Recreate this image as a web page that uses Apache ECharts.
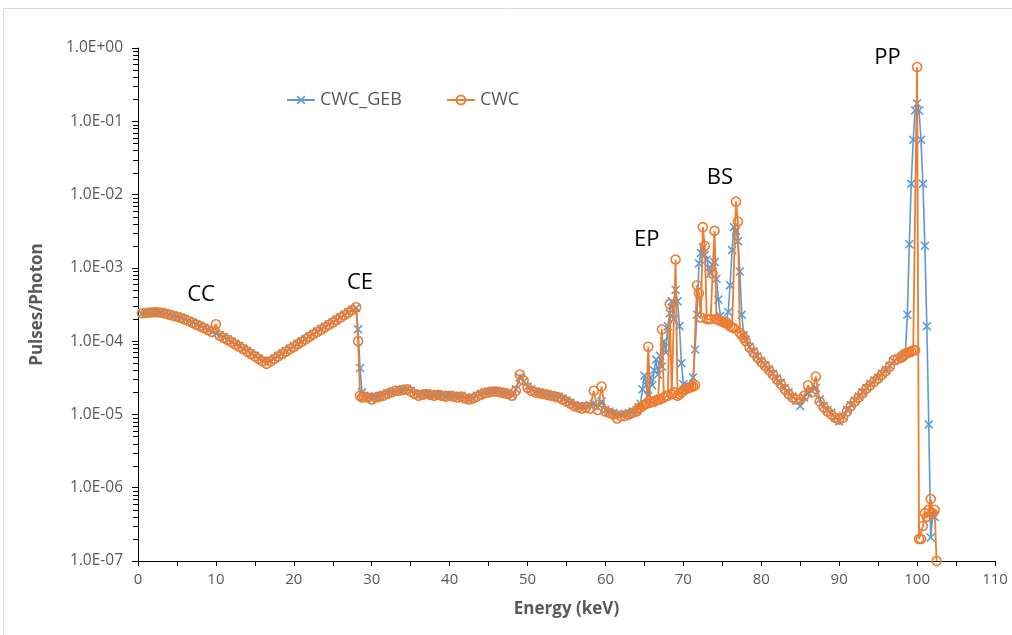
<!DOCTYPE html>
<html>
<head>
<meta charset="utf-8">
<script src="https://cdn.jsdelivr.net/npm/echarts@6/dist/echarts.min.js"></script>
<style>
  html, body { margin: 0; padding: 0; background: #fff; }
  #chart { width: 1012px; height: 635px; }
</style>
</head>
<body>
<div id="chart"></div>
<script>
// energy grid (keV)
const energy = [
  0.5,1,1.5,2,2.5,3,3.5,4,4.5,5,5.5,6,6.5,7,7.5,8,8.5,9,9.5,10,
  10.5,11,11.5,12,12.5,13,13.5,14,14.5,15,15.5,16,16.5,17,17.5,18,18.5,19,19.5,20,
  20.5,21,21.5,22,22.5,23,23.5,24,24.5,25,25.5,26,26.5,27,27.5,28,28.25,28.5,28.75,29,
  29.5,30,30.5,31,31.5,32,32.5,33,33.5,34,34.5,35,35.5,36,36.5,37,37.5,38,38.5,39,
  39.5,40,40.5,41,41.5,42,42.5,43,43.5,44,44.5,45,45.5,46,46.5,47,47.5,48,48.5,49,
  49.5,50,50.5,51,51.5,52,52.5,53,53.5,54,54.5,55,55.5,56,56.5,57,57.5,58,58.5,59,
  59.5,60,60.5,61,61.5,62,62.5,63,63.5,
  64,64.25,64.5,64.75,65,65.25,65.5,65.75,66,66.25,66.5,66.75,67,67.25,67.5,67.75,
  68,68.25,68.5,68.75,69,69.25,69.5,69.75,70,70.25,70.5,70.75,71,71.25,71.5,71.75,
  72,72.25,72.5,72.75,73,73.25,73.5,73.75,74,74.25,74.5,74.75,75,75.25,75.5,75.75,
  76,76.25,76.5,76.75,77,77.25,77.5,77.75,78,
  78.5,79,79.5,80,80.5,81,81.5,82,82.5,83,83.5,84,84.5,85,85.5,86,86.5,87,87.5,88,
  88.5,89,89.5,90,90.5,91,91.5,92,92.5,93,93.5,94,94.5,95,95.5,96,96.5,97,97.5,
  98,98.25,98.5,98.75,99,99.25,99.5,99.75,100,100.25,100.5,100.75,101,101.25,101.5,101.75,102,102.25,102.5
];

// CWC_GEB pulses/photon
const cwcGeb = [
  2.38e-4,2.44e-4,2.48e-4,2.5e-4,2.5e-4,2.46e-4,2.4e-4,2.33e-4,2.25e-4,2.18e-4,2.1e-4,2.0e-4,1.9e-4,1.81e-4,1.71e-4,1.62e-4,1.52e-4,1.44e-4,1.35e-4,1.28e-4,
  1.2e-4,1.13e-4,1.06e-4,9.9e-5,9.2e-5,8.6e-5,7.9e-5,7.4e-5,6.8e-5,6.3e-5,5.8e-5,5.4e-5,5.0e-5,5.4e-5,5.8e-5,6.3e-5,6.8e-5,7.3e-5,7.9e-5,8.5e-5,
  9.2e-5,9.9e-5,1.07e-4,1.16e-4,1.25e-4,1.35e-4,1.45e-4,1.57e-4,1.69e-4,1.82e-4,1.97e-4,2.12e-4,2.29e-4,2.47e-4,2.67e-4,2.85e-4,1.45e-4,4.3e-5,2.0e-5,1.8e-5,
  1.75e-5,1.7e-5,1.75e-5,1.8e-5,1.85e-5,1.95e-5,2.0e-5,2.05e-5,2.15e-5,2.2e-5,2.25e-5,2.1e-5,1.95e-5,1.85e-5,1.9e-5,1.95e-5,1.9e-5,1.85e-5,1.9e-5,1.85e-5,
  1.8e-5,1.85e-5,1.8e-5,1.75e-5,1.8e-5,1.7e-5,1.65e-5,1.7e-5,1.8e-5,1.9e-5,2.0e-5,2.05e-5,2.1e-5,2.1e-5,2.05e-5,2.0e-5,1.95e-5,1.85e-5,2.2e-5,3.2e-5,
  2.8e-5,2.4e-5,2.2e-5,2.05e-5,2.0e-5,1.95e-5,1.9e-5,1.85e-5,1.8e-5,1.75e-5,1.65e-5,1.55e-5,1.45e-5,1.35e-5,1.3e-5,1.28e-5,1.3e-5,1.35e-5,1.4e-5,1.25e-5,
  1.5e-5,1.15e-5,1.1e-5,1.05e-5,1.0e-5,1.0e-5,1.02e-5,1.05e-5,1.1e-5,
  1.15e-5,1.25e-5,1.4e-5,2.2e-5,3.4e-5,2.5e-5,1.8e-5,3.2e-5,2.5e-5,4.0e-5,5.6e-5,3.5e-5,6.3e-5,4.5e-5,1.0e-4,7.0e-5,
  1.6e-4,2.4e-4,3.5e-4,2.0e-4,5.0e-4,3.5e-4,1.6e-4,5.0e-5,2.6e-5,2.2e-5,2.3e-5,2.4e-5,2.4e-5,3.2e-5,7.7e-5,2.3e-4,
  1.15e-3,1.6e-3,1.9e-3,1.5e-3,1.3e-3,1.0e-3,8.4e-4,1.1e-3,1.2e-3,7.1e-4,3.7e-4,2.2e-4,1.9e-4,1.85e-4,1.8e-4,2.5e-4,
  5.8e-4,1.75e-3,3.6e-3,3.2e-3,2.3e-3,8.9e-4,2.3e-4,1.2e-4,1.05e-4,
  8.4e-5,7.2e-5,6.2e-5,5.4e-5,4.7e-5,4.1e-5,3.6e-5,3.1e-5,2.7e-5,2.3e-5,2.0e-5,1.75e-5,1.55e-5,1.3e-5,1.7e-5,2.0e-5,2.1e-5,2.3e-5,1.6e-5,1.3e-5,
  1.15e-5,1.05e-5,9.0e-6,8.0e-6,9.5e-6,1.15e-5,1.35e-5,1.55e-5,1.75e-5,2.0e-5,2.3e-5,2.6e-5,2.9e-5,3.2e-5,3.6e-5,4.0e-5,4.6e-5,5.3e-5,5.8e-5,
  6.2e-5,6.5e-5,6.8e-5,2.3e-4,2.1e-3,1.4e-2,5.6e-2,1.4e-1,1.75e-1,1.4e-1,5.6e-2,1.4e-2,2.0e-3,1.6e-4,7.3e-6,2.1e-7,4.2e-7,4.0e-7,null
];

// CWC pulses/photon
const cwc = [
  2.4e-4,2.42e-4,2.46e-4,2.48e-4,2.47e-4,2.44e-4,2.38e-4,2.3e-4,2.22e-4,2.15e-4,2.07e-4,1.98e-4,1.88e-4,1.78e-4,1.68e-4,1.59e-4,1.5e-4,1.41e-4,1.33e-4,1.7e-4,
  1.18e-4,1.11e-4,1.04e-4,9.7e-5,9.0e-5,8.4e-5,7.8e-5,7.2e-5,6.7e-5,6.2e-5,5.7e-5,5.3e-5,4.9e-5,5.3e-5,5.7e-5,6.2e-5,6.7e-5,7.2e-5,7.8e-5,8.4e-5,
  9.1e-5,9.8e-5,1.06e-4,1.15e-4,1.24e-4,1.33e-4,1.44e-4,1.55e-4,1.67e-4,1.8e-4,1.95e-4,2.1e-4,2.27e-4,2.45e-4,2.65e-4,2.9e-4,1.0e-4,1.8e-5,1.7e-5,1.75e-5,
  1.7e-5,1.6e-5,1.7e-5,1.75e-5,1.8e-5,1.9e-5,2.0e-5,2.1e-5,2.1e-5,2.15e-5,2.2e-5,2.05e-5,1.9e-5,1.8e-5,1.85e-5,1.9e-5,1.85e-5,1.8e-5,1.85e-5,1.8e-5,
  1.75e-5,1.8e-5,1.75e-5,1.7e-5,1.75e-5,1.65e-5,1.6e-5,1.65e-5,1.75e-5,1.85e-5,1.95e-5,2.0e-5,2.05e-5,2.05e-5,2.0e-5,1.95e-5,1.9e-5,1.8e-5,2.1e-5,3.5e-5,
  2.9e-5,2.3e-5,2.1e-5,2.0e-5,1.95e-5,1.9e-5,1.85e-5,1.8e-5,1.75e-5,1.7e-5,1.6e-5,1.5e-5,1.4e-5,1.3e-5,1.25e-5,1.2e-5,1.25e-5,1.2e-5,2.1e-5,1.15e-5,
  2.4e-5,1.1e-5,1.05e-5,1.0e-5,8.8e-6,9.5e-6,9.5e-6,1.0e-5,1.05e-5,
  1.1e-5,1.2e-5,1.25e-5,1.3e-5,1.35e-5,1.4e-5,8.4e-5,1.45e-5,1.5e-5,1.5e-5,1.55e-5,1.6e-5,1.6e-5,1.45e-4,1.7e-5,1.8e-5,
  1.8e-5,3.2e-4,1.9e-5,2.0e-5,1.3e-3,1.8e-5,1.9e-5,2.0e-5,2.1e-5,2.2e-5,2.3e-5,2.3e-5,2.4e-5,2.4e-5,2.5e-5,5.8e-4,
  4.5e-4,2.1e-4,3.6e-3,2.0e-3,2.0e-4,2.0e-4,2.0e-4,8.4e-4,3.2e-3,2.0e-4,1.95e-4,1.9e-4,1.85e-4,1.8e-4,1.75e-4,1.7e-4,
  1.6e-4,1.55e-4,1.5e-4,8.0e-3,4.3e-3,1.3e-4,1.2e-4,1.1e-4,1.0e-4,
  8.2e-5,7.0e-5,6.0e-5,5.2e-5,4.6e-5,4.0e-5,3.5e-5,3.0e-5,2.6e-5,2.2e-5,1.9e-5,1.7e-5,1.6e-5,1.6e-5,1.8e-5,2.5e-5,2.0e-5,3.3e-5,1.5e-5,1.25e-5,
  1.1e-5,1.0e-5,9.0e-6,8.5e-6,9.0e-6,1.1e-5,1.3e-5,1.5e-5,1.7e-5,1.95e-5,2.25e-5,2.5e-5,2.8e-5,3.1e-5,3.5e-5,3.9e-5,4.5e-5,5.5e-5,5.7e-5,
  6.0e-5,6.3e-5,6.6e-5,7.0e-5,7.0e-5,7.2e-5,7.5e-5,7.5e-5,5.5e-1,2.0e-7,2.0e-7,3.0e-7,4.5e-7,4.0e-7,5.0e-7,7.0e-7,4.5e-7,5.0e-7,1.0e-7
];

// tick labels
const yTickLabels = ['1.0E-07','1.0E-06','1.0E-05','1.0E-04','1.0E-03','1.0E-02','1.0E-01','1.0E+00'];
const xTicks = [0,10,20,30,40,50,60,70,80,90,100,110];

// region labels
const regionNames = ['CC','CE','EP','BS','PP'];
const regionEnergy = [8.1, 28.5, 65.3, 74.7, 96.2];
const regionLevel = [4.3e-4, 6.2e-4, 2.4e-3, 1.7e-2, 7.3e-1];

// log minor ticks 2..9 per decade
const yMinor = [];
for (let k = -7; k < 0; k++) {
  for (let m = 2; m <= 9; m++) yMinor.push([0, m * Math.pow(10, k)]);
}

const gray = '#595959';
const font = 'Open Sans';
const crossPath = 'path://M0,1.2L1.2,0L5,3.8L8.8,0L10,1.2L6.2,5L10,8.8L8.8,10L5,6.2L1.2,10L0,8.8L3.8,5Z';

const chart = echarts.init(document.getElementById('chart'));
chart.setOption({
  animation: false,
  textStyle: { fontFamily: font },
  graphic: [{
    type: 'rect',
    shape: { x: 3.5, y: 8.5, width: 1030, height: 660 },
    style: { fill: 'none', stroke: '#d9d9d9', lineWidth: 1 },
    silent: true
  }],
  grid: { left: 138, right: 17, top: 48, bottom: 74 },
  legend: {
    data: ['CWC_GEB', 'CWC'],
    left: 281,
    top: 86,
    itemWidth: 28,
    itemHeight: 11,
    itemGap: 44,
    textStyle: { color: gray, fontSize: 18, fontFamily: font }
  },
  xAxis: {
    type: 'value',
    min: 0,
    max: 110,
    interval: 10,
    name: 'Energy (keV)',
    nameLocation: 'middle',
    nameGap: 40,
    nameTextStyle: { color: gray, fontSize: 17, fontWeight: 'bold', fontFamily: font },
    axisLine: { lineStyle: { color: '#000', width: 1 } },
    axisTick: { show: true, length: 5, lineStyle: { color: '#000' } },
    minorTick: { show: true, splitNumber: 2, length: 5, lineStyle: { color: '#000' } },
    splitLine: { show: false },
    axisLabel: {
      color: gray, fontSize: 15, margin: 11, fontFamily: font,
      formatter: v => xTicks.indexOf(v) >= 0 ? String(v) : ''
    }
  },
  yAxis: {
    type: 'log',
    logBase: 10,
    min: 1e-7,
    max: 1,
    interval: 1,
    name: 'Pulses/Photon',
    nameLocation: 'middle',
    nameGap: 92,
    nameTextStyle: { color: gray, fontSize: 17, fontWeight: 'bold', fontFamily: font },
    axisLine: { show: true, lineStyle: { color: '#000', width: 1 } },
    axisTick: { show: true, length: 6, lineStyle: { color: '#000' } },
    splitLine: { show: false },
    axisLabel: {
      color: gray, fontSize: 15.5, margin: 15, fontFamily: font,
      formatter: v => yTickLabels[Math.round(Math.log10(v)) + 7]
    }
  },
  series: [
    {
      name: 'CWC_GEB',
      type: 'line',
      data: energy.map((e, i) => [e, cwcGeb[i]]),
      color: '#5B9BD5',
      symbol: crossPath,
      symbolSize: 9,
      showAllSymbol: true,
      lineStyle: { width: 1.6, color: '#5B9BD5' },
      itemStyle: { color: '#5B9BD5' },
      z: 2
    },
    {
      name: 'CWC',
      type: 'line',
      data: energy.map((e, i) => [e, cwc[i]]),
      color: '#ED7D31',
      symbol: 'circle',
      symbolSize: 9,
      showAllSymbol: true,
      lineStyle: { width: 1.8, color: '#ED7D31' },
      itemStyle: { color: 'rgba(255,255,255,0)', borderColor: '#ED7D31', borderWidth: 1.6 },
      z: 3,
      markPoint: {
        symbol: 'circle',
        symbolSize: 0,
        silent: true,
        label: { show: true, formatter: '{b}', color: '#000', fontSize: 22, fontFamily: font },
        data: regionNames.map((n, i) => ({ name: n, coord: [regionEnergy[i], regionLevel[i]] }))
      }
    },
    {
      name: 'minor',
      type: 'custom',
      silent: true,
      clip: false,
      z: 4,
      data: yMinor,
      renderItem: (params, api) => {
        const p = api.coord([api.value(0), api.value(1)]);
        return {
          type: 'line',
          shape: { x1: p[0] - 5, y1: Math.round(p[1]) + 0.5, x2: p[0], y2: Math.round(p[1]) + 0.5 },
          style: { stroke: '#000', lineWidth: 1 }
        };
      }
    }
  ]
});
</script>
</body>
</html>
